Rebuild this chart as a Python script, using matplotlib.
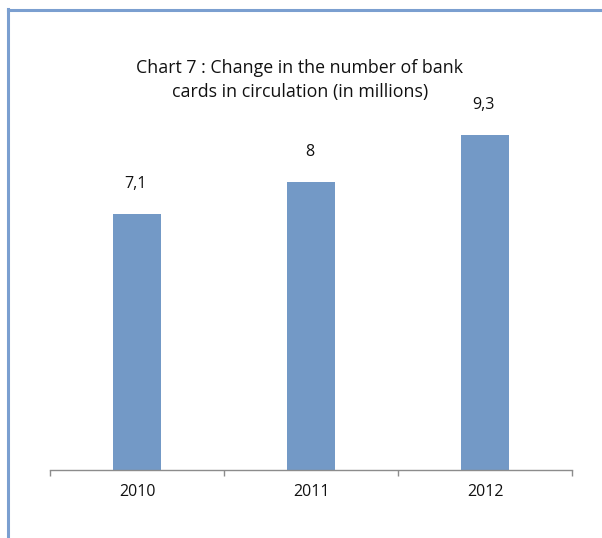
import matplotlib
matplotlib.use("Agg")
import matplotlib.pyplot as plt
from matplotlib.lines import Line2D

years = ["2010", "2011", "2012"]
cards = [7.1, 8, 9.3]
value_labels = ["7,1", "8", "9,3"]

plt.rcParams["font.family"] = ["Open Sans", "DejaVu Sans"]

BAR = "#7399c6"
FRAME = "#7b9fd0"

fig = plt.figure(figsize=(6.02, 5.38), dpi=100)
W, H = 602, 538

# frame lines along the top and left edge
fig.add_artist(Line2D([7.5 / W, 1], [1 - 10 / H, 1 - 10 / H], color=FRAME, lw=2.2,
                      transform=fig.transFigure))
fig.add_artist(Line2D([8 / W, 8 / W], [0, 1 - 9 / H], color=FRAME, lw=2.2,
                      transform=fig.transFigure))

ax = fig.add_axes([50 / W, (H - 470) / H, 522 / W, 340 / H])
x = range(len(years))
ax.bar(x, cards, width=0.276, color=BAR)
ax.set_xlim(-0.5, 2.5)
ax.set_ylim(0, 9.44)

for i, (v, lab) in enumerate(zip(cards, value_labels)):
    ax.annotate(lab, (i, v), xytext=(-1, 16), textcoords="offset points",
                ha="center", va="bottom", fontsize=11.5, color="#111111",
                annotation_clip=False)

for s in ["top", "right", "left"]:
    ax.spines[s].set_visible(False)
ax.spines["bottom"].set_color("#8c8c8c")
ax.spines["bottom"].set_linewidth(1.0)
ax.set_yticks([])
ax.set_xticks([-0.5, 0.5, 1.5, 2.5], minor=False)
ax.set_xticklabels([])
ax.tick_params(axis="x", which="major", length=4, color="#8c8c8c", width=1)
ax.set_xticks(list(x), minor=True)
ax.set_xticklabels(years, minor=True, fontsize=11.5, color="#111111")
ax.tick_params(axis="x", which="minor", length=0, pad=10)

fig.text(300 / W, 1 - 80 / H, "Chart 7 : Change in the number of bank\ncards in circulation (in millions)",
         ha="center", va="center", fontsize=12.8, linespacing=1.4, color="#111111")

fig.savefig("out.png", dpi=100)
